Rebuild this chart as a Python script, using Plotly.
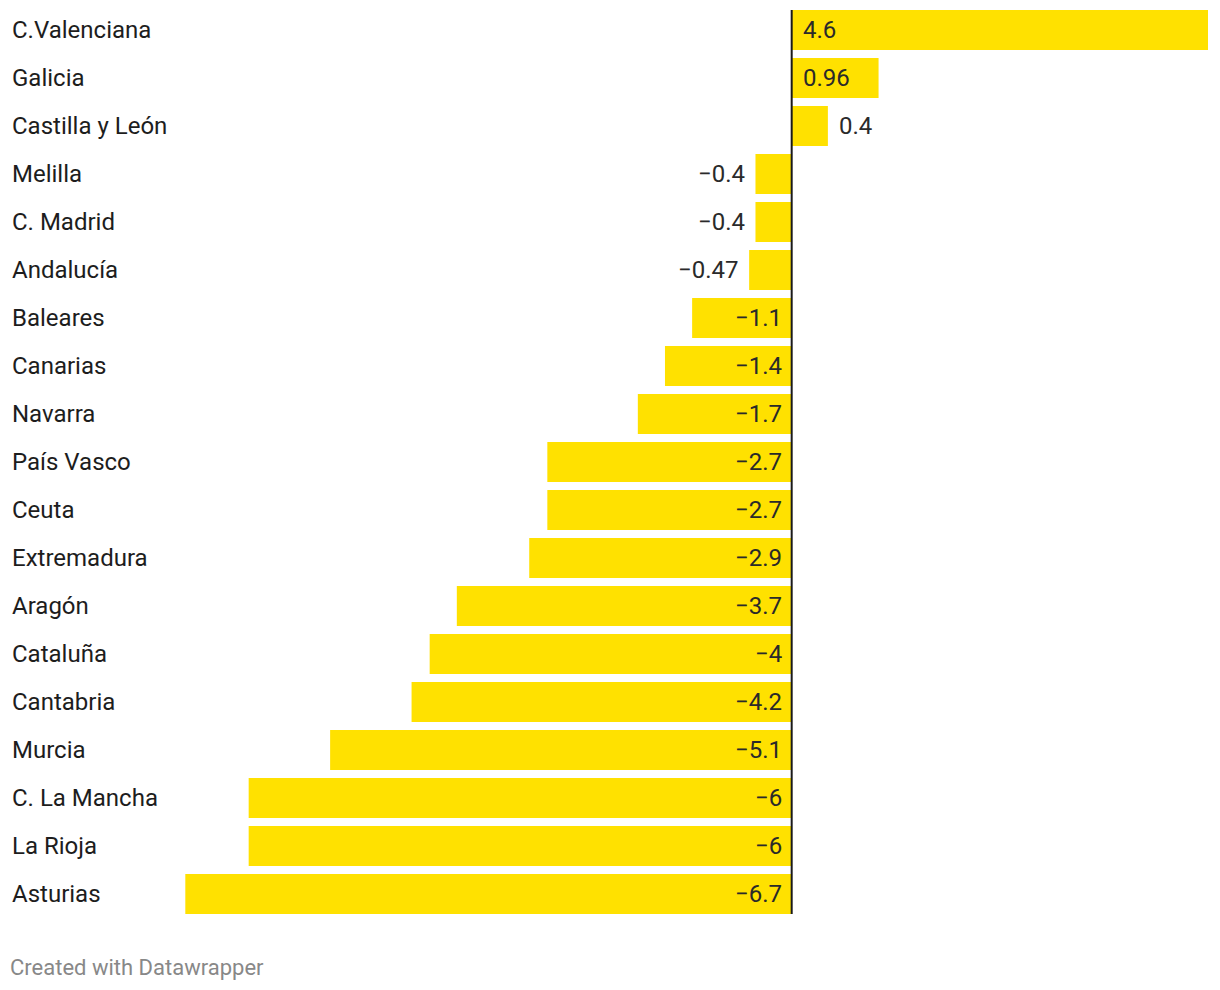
import plotly.graph_objects as go

regions = ["C.Valenciana", "Galicia", "Castilla y León", "Melilla", "C. Madrid",
           "Andalucía", "Baleares", "Canarias", "Navarra", "País Vasco", "Ceuta",
           "Extremadura", "Aragón", "Cataluña", "Cantabria", "Murcia",
           "C. La Mancha", "La Rioja", "Asturias"]
values = [4.6, 0.96, 0.4, -0.4, -0.4, -0.47, -1.1, -1.4, -1.7, -2.7, -2.7,
          -2.9, -3.7, -4.0, -4.2, -5.1, -6.0, -6.0, -6.7]

BAR = "#FFE100"
LBL = "#1d1d1d"
TXT = "#2a2a2a"
FONT = "Roboto"
FS = 24

def fmt(v):
    s = ("%g" % abs(v))
    return ("\u2212" + s) if v < 0 else s

fig = go.Figure()
fig.add_trace(go.Bar(
    x=values, y=regions, orientation="h",
    marker=dict(color=BAR, line=dict(width=0)),
    hoverinfo="skip",
))

annotations = []
for r, v in zip(regions, values):
    annotations.append(dict(
        x=0, xref="paper", y=r, yref="y", text=r, showarrow=False,
        xanchor="left", yanchor="middle", font=dict(family=FONT, size=FS, color=LBL),
        borderpad=0, borderwidth=0,
    ))
    inside = abs(v) > 0.9
    ax = 0 if inside else v
    if v >= 0:
        anchor, shift = "left", 11
    else:
        anchor, shift = "right", -10
    annotations.append(dict(
        x=ax, xref="x", y=r, yref="y", text=fmt(v), showarrow=False,
        xanchor=anchor, yanchor="middle", xshift=shift,
        font=dict(family=FONT, size=FS, color=TXT),
        borderpad=0, borderwidth=0,
    ))

annotations.append(dict(
    x=0, xref="paper", y=-0.05385, yref="paper", text="Created with Datawrapper",
    showarrow=False, xanchor="left", yanchor="middle", xshift=-2,
    font=dict(family=FONT, size=22, color="#888888"),
    borderpad=0, borderwidth=0,
))

n = len(regions)
half = 40 / 48 / 2
fig.add_shape(type="line", xref="x", yref="y", x0=0, x1=0,
              y0=-half, y1=(n - 1) + half,
              line=dict(color="#1a1a1a", width=2), layer="above")

fig.update_layout(
    width=1212, height=982,
    margin=dict(l=4, r=12, t=0, b=72),
    paper_bgcolor="white", plot_bgcolor="white",
    bargap=8 / 48,
    showlegend=False,
    annotations=annotations,
    xaxis=dict(range=[-8.615, 4.6], visible=False, fixedrange=True),
    yaxis=dict(range=[n - 0.5, -22 / 48], visible=False, type="category",
               categoryorder="array", categoryarray=regions, fixedrange=True),
)

fig.write_html("out.html")
